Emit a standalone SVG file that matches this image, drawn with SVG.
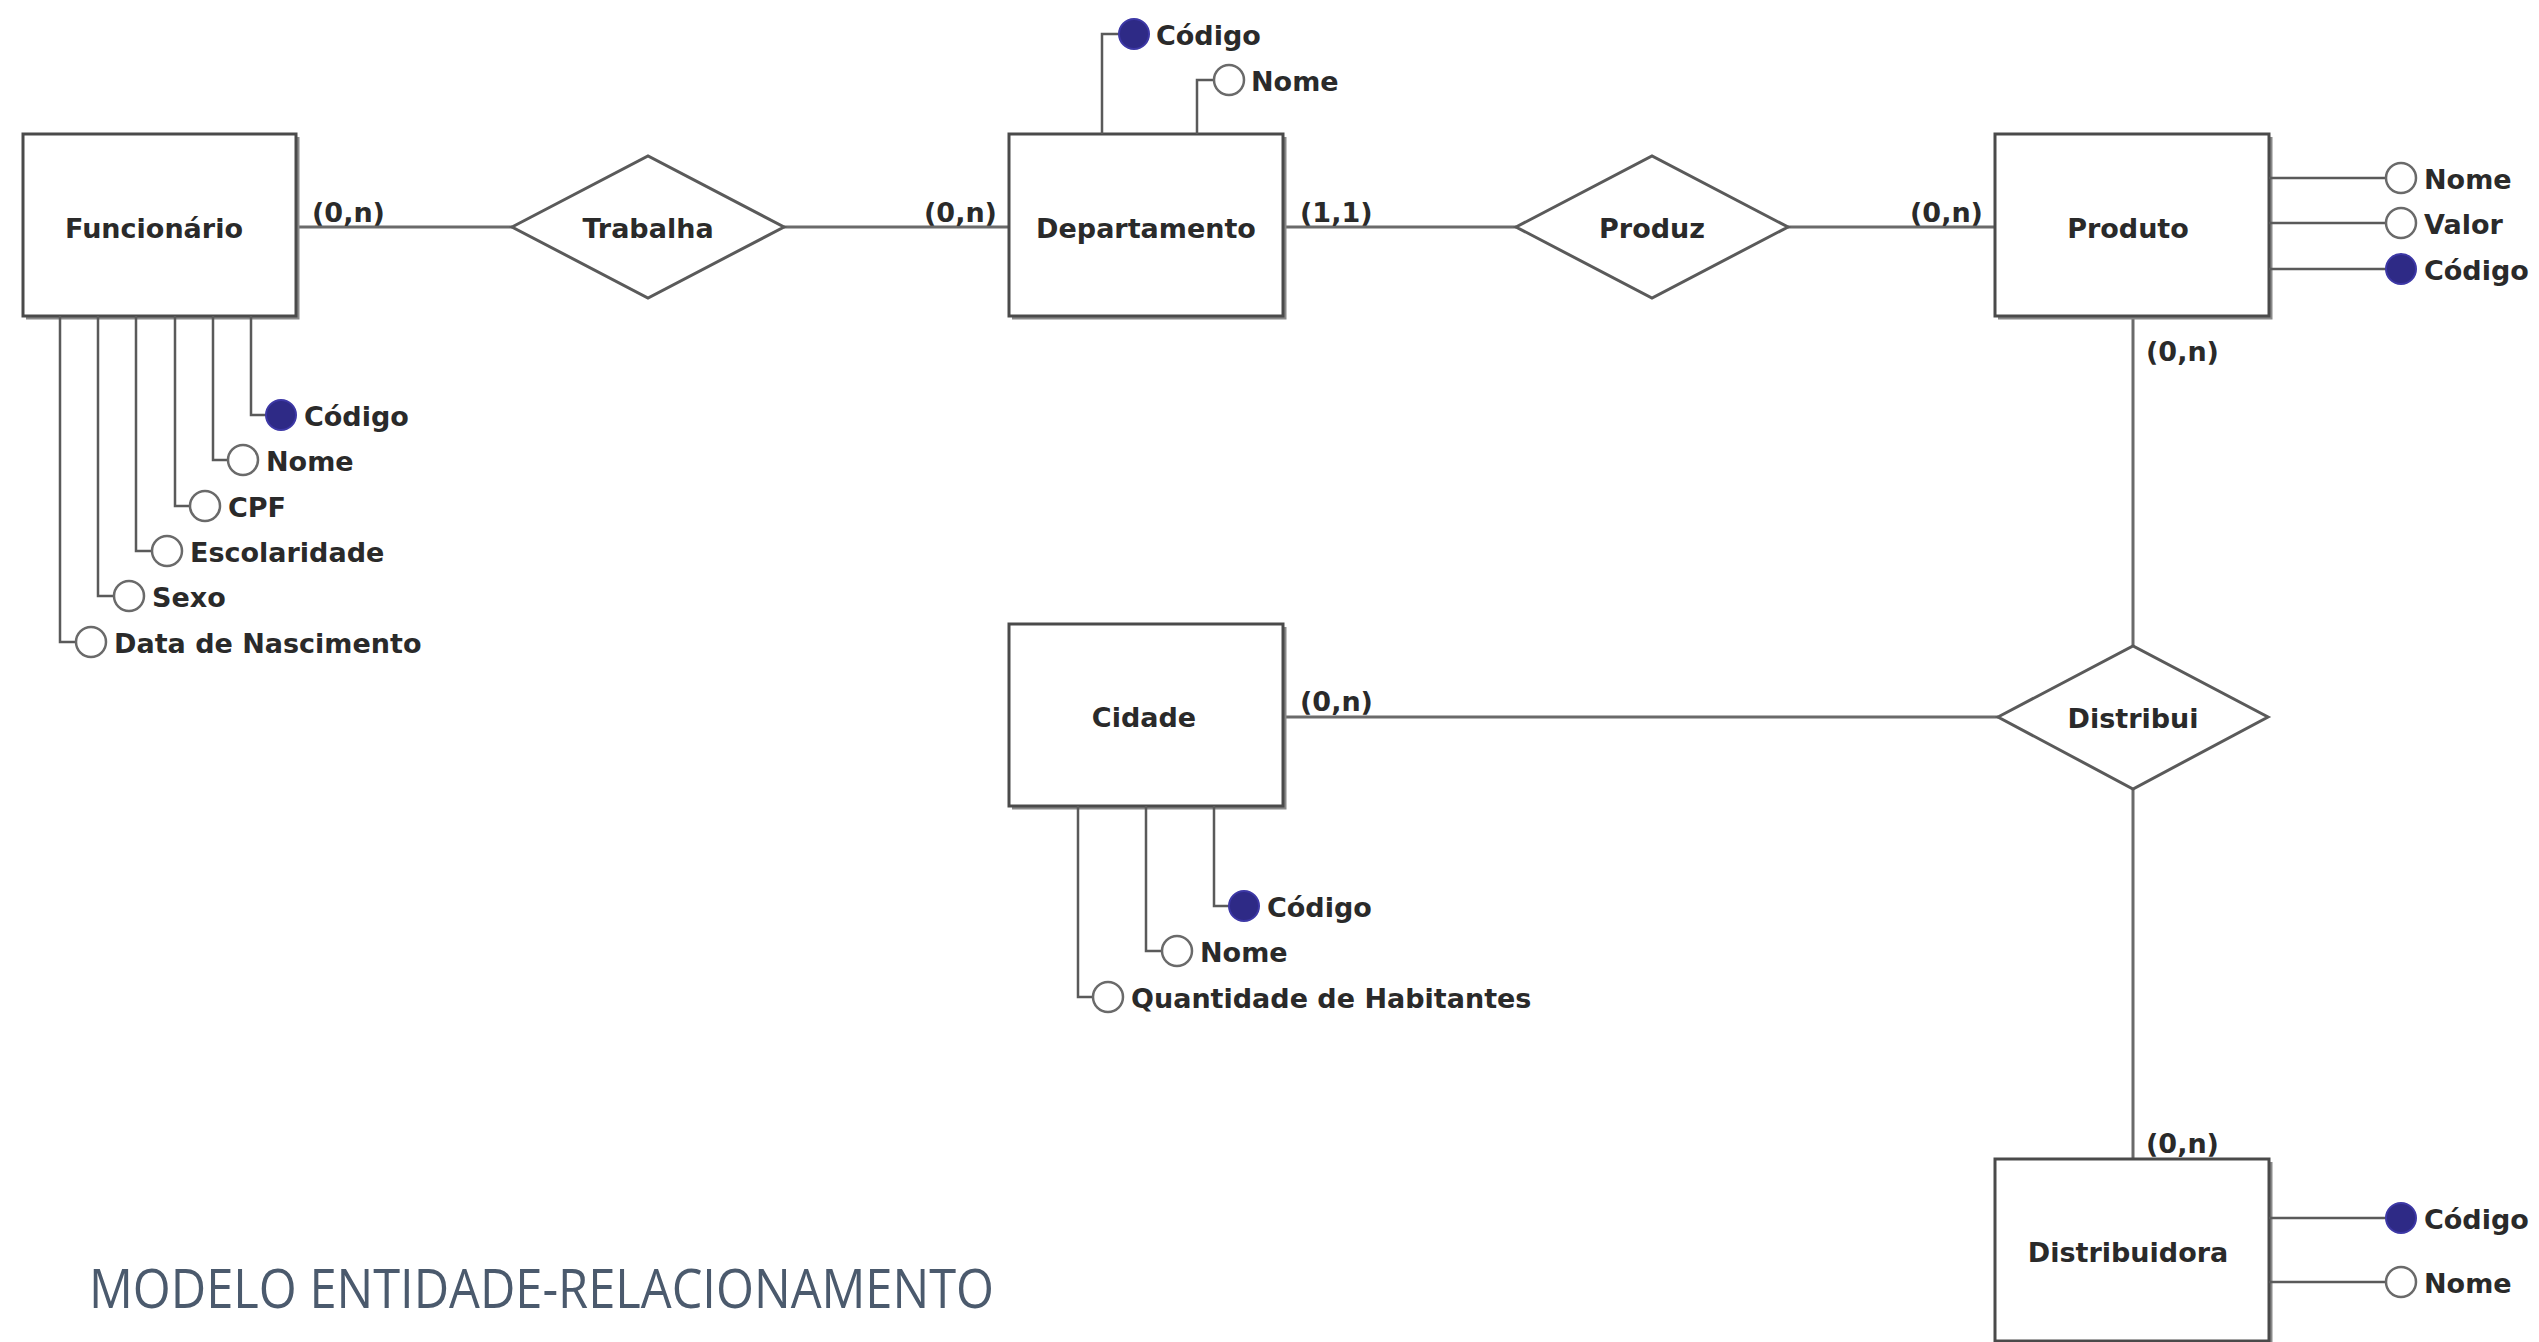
<svg xmlns="http://www.w3.org/2000/svg" width="2539" height="1342" viewBox="0 0 2539 1342">
<style>
.box{fill:#fff;stroke:#4a4a4a;stroke-width:3}
.shadow{fill:none;stroke:#8a8a8a;stroke-width:3}
.rel{fill:#fff;stroke:#5a5a5a;stroke-width:3}
.conn{fill:none;stroke:#6a6a6a;stroke-width:3}
.att{fill:none;stroke:#5a5a5a;stroke-width:2.5}
.open{fill:#fff;stroke:#6a6a6a;stroke-width:2.5}
.key{fill:#2e2a86;stroke:#3d38a6;stroke-width:2}
.t{font-family:"DejaVu Sans",Verdana,sans-serif;font-weight:bold;font-size:27px;fill:#2a2a2a}
.c{text-anchor:middle;dominant-baseline:central}
.a{dominant-baseline:central}
.title{font-family:"Open Sans","DejaVu Sans",sans-serif;font-size:54px;fill:#4b5a6d}
</style>
<rect width="2539" height="1342" fill="#fff"/>
<g id="connectors">
<line class="conn" x1="296" y1="227" x2="512" y2="227"/>
<line class="conn" x1="784" y1="227" x2="1009" y2="227"/>
<line class="conn" x1="1283" y1="227" x2="1516" y2="227"/>
<line class="conn" x1="1788" y1="227" x2="1995" y2="227"/>
<line class="conn" x1="2133" y1="316" x2="2133" y2="646"/>
<line class="conn" x1="1283" y1="717" x2="1998" y2="717"/>
<line class="conn" x1="2133" y1="789" x2="2133" y2="1159"/>
<text class="t a" x="312" y="212">(0,n)</text>
<text class="t a" x="924" y="212">(0,n)</text>
<text class="t a" x="1300" y="212">(1,1)</text>
<text class="t a" x="1910" y="212">(0,n)</text>
<text class="t a" x="2146" y="351">(0,n)</text>
<text class="t a" x="1300" y="701">(0,n)</text>
<text class="t a" x="2146" y="1143">(0,n)</text>
</g>
<g id="funcionario">
<path class="shadow" d="M298,137 V318 H26"/>
<rect class="box" x="23" y="134" width="273" height="182"/>
<text class="t c" x="154" y="228">Funcionário</text>
<path class="att" d="M251,316 V415 H266"/><circle class="key" cx="281" cy="415" r="15"/><text class="t a" x="304" y="416">Código</text>
<path class="att" d="M213,316 V460 H228"/><circle class="open" cx="243" cy="460" r="15"/><text class="t a" x="266" y="461">Nome</text>
<path class="att" d="M175,316 V506 H190"/><circle class="open" cx="205" cy="506" r="15"/><text class="t a" x="228" y="507">CPF</text>
<path class="att" d="M136,316 V551 H152"/><circle class="open" cx="167" cy="551" r="15"/><text class="t a" x="190" y="552">Escolaridade</text>
<path class="att" d="M98,316 V596 H114"/><circle class="open" cx="129" cy="596" r="15"/><text class="t a" x="152" y="597">Sexo</text>
<path class="att" d="M60,316 V642 H76"/><circle class="open" cx="91" cy="642" r="15"/><text class="t a" x="114" y="643">Data de Nascimento</text>
</g>
<g id="trabalha">
<polygon class="rel" points="512,227 648,156 784,227 648,298"/>
<text class="t c" x="648" y="228">Trabalha</text>
</g>
<g id="departamento">
<path class="shadow" d="M1285,137 V318 H1012"/>
<rect class="box" x="1009" y="134" width="274" height="182"/>
<text class="t c" x="1146" y="228">Departamento</text>
<path class="att" d="M1102,134 V34 H1119"/><circle class="key" cx="1134" cy="34" r="15"/><text class="t a" x="1156" y="35">Código</text>
<path class="att" d="M1197,134 V80 H1214"/><circle class="open" cx="1229" cy="80" r="15"/><text class="t a" x="1251" y="81">Nome</text>
</g>
<g id="produz">
<polygon class="rel" points="1516,227 1652,156 1788,227 1652,298"/>
<text class="t c" x="1652" y="228">Produz</text>
</g>
<g id="produto">
<path class="shadow" d="M2271,137 V318 H1998"/>
<rect class="box" x="1995" y="134" width="274" height="182"/>
<text class="t c" x="2128" y="228">Produto</text>
<path class="att" d="M2269,178 H2386"/><circle class="open" cx="2401" cy="178" r="15"/><text class="t a" x="2424" y="179">Nome</text>
<path class="att" d="M2269,223 H2386"/><circle class="open" cx="2401" cy="223" r="15"/><text class="t a" x="2424" y="224">Valor</text>
<path class="att" d="M2269,269 H2386"/><circle class="key" cx="2401" cy="269" r="15"/><text class="t a" x="2424" y="270">Código</text>
</g>
<g id="distribui">
<polygon class="rel" points="1998,717 2133,646 2268,717 2133,789"/>
<text class="t c" x="2133" y="718">Distribui</text>
</g>
<g id="cidade">
<path class="shadow" d="M1285,627 V808 H1012"/>
<rect class="box" x="1009" y="624" width="274" height="182"/>
<text class="t c" x="1144" y="717">Cidade</text>
<path class="att" d="M1214,806 V906 H1229"/><circle class="key" cx="1244" cy="906" r="15"/><text class="t a" x="1267" y="907">Código</text>
<path class="att" d="M1146,806 V951 H1162"/><circle class="open" cx="1177" cy="951" r="15"/><text class="t a" x="1200" y="952">Nome</text>
<path class="att" d="M1078,806 V997 H1093"/><circle class="open" cx="1108" cy="997" r="15"/><text class="t a" x="1131" y="998">Quantidade de Habitantes</text>
</g>
<g id="distribuidora">
<path class="shadow" d="M2271,1162 V1343"/>
<rect class="box" x="1995" y="1159" width="274" height="182"/>
<text class="t c" x="2128" y="1252">Distribuidora</text>
<path class="att" d="M2269,1218 H2386"/><circle class="key" cx="2401" cy="1218" r="15"/><text class="t a" x="2424" y="1219">Código</text>
<path class="att" d="M2269,1282 H2386"/><circle class="open" cx="2401" cy="1282" r="15"/><text class="t a" x="2424" y="1283">Nome</text>
</g>
<text class="title" x="89" y="1308" textLength="905" lengthAdjust="spacingAndGlyphs">MODELO ENTIDADE-RELACIONAMENTO</text>
</svg>
